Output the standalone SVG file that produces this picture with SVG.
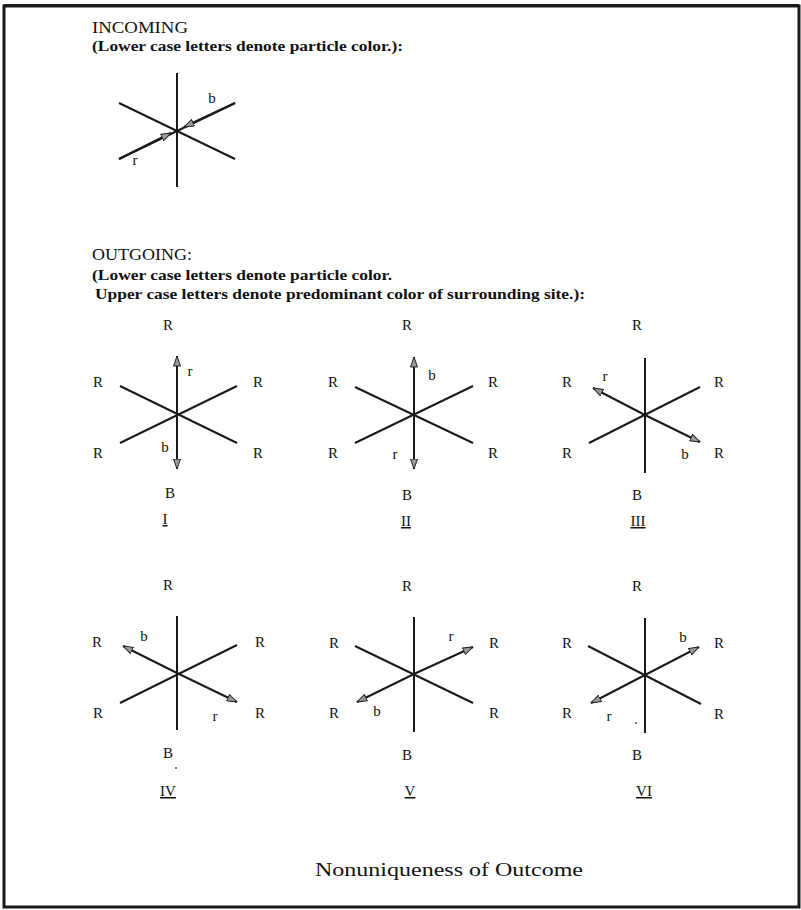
<svg xmlns="http://www.w3.org/2000/svg" width="801" height="910" viewBox="0 0 801 910">
<style>
.ln{stroke:#1a1a1a;stroke-width:2;fill:none}
.ar{stroke:#1a1a1a;stroke-width:2;fill:none;marker-end:url(#ah)}
.hd{font-family:"Liberation Serif",serif;font-size:16px;fill:#111}
.sub{font-family:"Liberation Serif",serif;font-size:14px;font-weight:bold;fill:#111}
.lb{font-family:"Liberation Serif",serif;font-size:15px;fill:#111;text-anchor:middle}
.pl{font-family:"Liberation Serif",serif;font-size:15px;fill:#111;text-anchor:middle}
.num{font-family:"Liberation Serif",serif;font-size:15px;fill:#111;text-anchor:middle;text-decoration:underline}
.cap{font-family:"Liberation Serif",serif;font-size:18px;fill:#111}
</style>
<defs>
<marker id="ah" viewBox="0 0 10 8" refX="10" refY="4" markerWidth="11" markerHeight="8" markerUnits="userSpaceOnUse" orient="auto">
<path d="M0,0.5 L10,4 L0,7.5 Z" fill="#9a9a9a" stroke="#222" stroke-width="1"/>
</marker>
</defs>
<rect x="4" y="6" width="795" height="901" fill="#fff" stroke="#1a1a1a" stroke-width="3"/>
<line x1="4" y1="5.5" x2="799" y2="5.5" stroke="#1a1a1a" stroke-width="3"/>

<g id="headers">
<text class="hd" x="92" y="33" textLength="96" lengthAdjust="spacingAndGlyphs">INCOMING</text>
<text class="sub" x="92" y="51" textLength="311" lengthAdjust="spacingAndGlyphs">(Lower case letters denote particle color.):</text>
<text class="hd" x="92" y="260" textLength="100" lengthAdjust="spacingAndGlyphs">OUTGOING:</text>
<text class="sub" x="92" y="280" textLength="300" lengthAdjust="spacingAndGlyphs">(Lower case letters denote particle color.</text>
<text class="sub" x="95" y="299" textLength="490" lengthAdjust="spacingAndGlyphs">Upper case letters denote predominant color of surrounding site.):</text>
</g>

<g id="incoming">
<line class="ln" x1="177" y1="73" x2="177" y2="187"/>
<line class="ln" x1="119" y1="103" x2="235" y2="159"/>
<line class="ln" x1="119" y1="159" x2="235" y2="103"/>
<line class="ar" x1="119" y1="159" x2="171" y2="133"/>
<line class="ar" x1="235" y1="103" x2="184" y2="127"/>
<text class="pl" x="212" y="103">b</text>
<text class="pl" x="135" y="165">r</text>
</g>

<g id="diagram-I">
<line class="ln" x1="120" y1="386" x2="237" y2="443"/>
<line class="ln" x1="120" y1="443" x2="237" y2="386"/>
<line class="ar" x1="177" y1="413" x2="177" y2="356"/>
<line class="ar" x1="177" y1="413" x2="177" y2="469"/>
<text class="lb" x="168" y="330">R</text>
<text class="lb" x="98" y="387">R</text>
<text class="lb" x="258" y="387">R</text>
<text class="lb" x="98" y="458">R</text>
<text class="lb" x="258" y="458">R</text>
<text class="lb" x="170" y="498">B</text>
<text class="num" x="165" y="524">I</text>
<text class="pl" x="190" y="376">r</text>
<text class="pl" x="165" y="452">b</text>
</g>

<g id="diagram-II">
<line class="ln" x1="355" y1="387" x2="473" y2="443"/>
<line class="ln" x1="355" y1="443" x2="473" y2="386"/>
<line class="ar" x1="414" y1="414" x2="414" y2="357"/>
<line class="ar" x1="414" y1="414" x2="414" y2="469"/>
<text class="lb" x="407" y="330">R</text>
<text class="lb" x="333" y="387">R</text>
<text class="lb" x="493" y="387">R</text>
<text class="lb" x="333" y="458">R</text>
<text class="lb" x="493" y="458">R</text>
<text class="lb" x="407" y="500">B</text>
<text class="num" x="406" y="526">II</text>
<text class="pl" x="432" y="380">b</text>
<text class="pl" x="395" y="459">r</text>
</g>

<g id="diagram-III">
<line class="ln" x1="645" y1="358" x2="645" y2="473"/>
<line class="ln" x1="589" y1="443" x2="700" y2="387"/>
<line class="ar" x1="645" y1="415" x2="593" y2="388"/>
<line class="ar" x1="645" y1="415" x2="700" y2="442"/>
<text class="lb" x="637" y="330">R</text>
<text class="lb" x="567" y="387">R</text>
<text class="lb" x="719" y="387">R</text>
<text class="lb" x="567" y="458">R</text>
<text class="lb" x="719" y="458">R</text>
<text class="lb" x="637" y="500">B</text>
<text class="num" x="638" y="526">III</text>
<text class="pl" x="605" y="381">r</text>
<text class="pl" x="685" y="459">b</text>
</g>

<g id="diagram-IV">
<line class="ln" x1="177" y1="616" x2="177" y2="730"/>
<line class="ln" x1="120" y1="703" x2="237" y2="645"/>
<line class="ar" x1="177" y1="673" x2="123" y2="646"/>
<line class="ar" x1="177" y1="673" x2="237" y2="702"/>
<text class="lb" x="168" y="590">R</text>
<text class="lb" x="97" y="647">R</text>
<text class="lb" x="260" y="647">R</text>
<text class="lb" x="98" y="718">R</text>
<text class="lb" x="260" y="718">R</text>
<text class="lb" x="168" y="758">B</text>
<circle cx="176" cy="768" r="0.9" fill="#333"/>
<text class="num" x="168" y="796">IV</text>
<text class="pl" x="144" y="641">b</text>
<text class="pl" x="215" y="721">r</text>
</g>

<g id="diagram-V">
<line class="ln" x1="414" y1="617" x2="414" y2="732"/>
<line class="ln" x1="355" y1="646" x2="473" y2="703"/>
<line class="ar" x1="414" y1="674" x2="473" y2="647"/>
<line class="ar" x1="414" y1="674" x2="357" y2="702"/>
<text class="lb" x="407" y="591">R</text>
<text class="lb" x="334" y="648">R</text>
<text class="lb" x="494" y="648">R</text>
<text class="lb" x="334" y="718">R</text>
<text class="lb" x="494" y="718">R</text>
<text class="lb" x="407" y="760">B</text>
<text class="num" x="410" y="796">V</text>
<text class="pl" x="451" y="641">r</text>
<text class="pl" x="377" y="716">b</text>
</g>

<g id="diagram-VI">
<line class="ln" x1="645" y1="618" x2="645" y2="733"/>
<line class="ln" x1="588" y1="646" x2="701" y2="704"/>
<line class="ar" x1="645" y1="675" x2="699" y2="647"/>
<line class="ar" x1="645" y1="675" x2="591" y2="703"/>
<text class="lb" x="637" y="591">R</text>
<text class="lb" x="567" y="648">R</text>
<text class="lb" x="719" y="648">R</text>
<text class="lb" x="567" y="718">R</text>
<text class="lb" x="719" y="719">R</text>
<text class="lb" x="637" y="760">B</text>
<circle cx="636" cy="723" r="0.9" fill="#333"/>
<text class="num" x="644" y="796">VI</text>
<text class="pl" x="683" y="642">b</text>
<text class="pl" x="609" y="721">r</text>
</g>

<g id="caption">
<text class="cap" x="315" y="876" textLength="268" lengthAdjust="spacingAndGlyphs">Nonuniqueness of Outcome</text>
</g>
</svg>
